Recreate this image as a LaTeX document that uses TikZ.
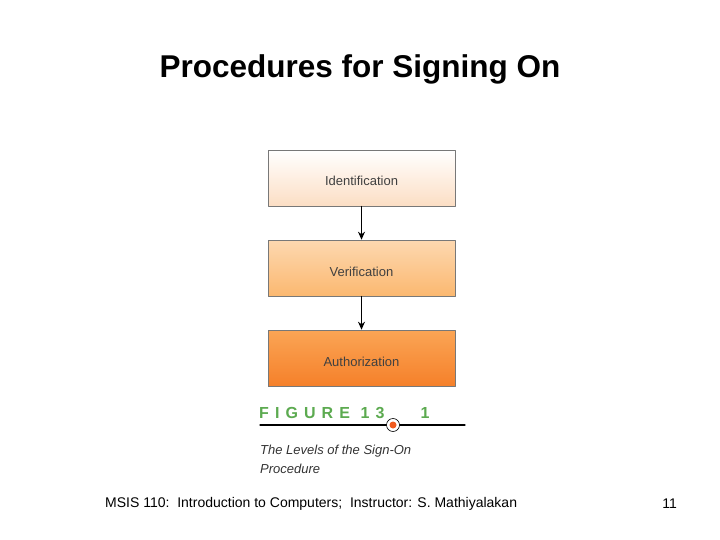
\documentclass[tikz,border=0pt]{standalone}
\usepackage{fontspec}
\setmainfont{Liberation Sans}
\usetikzlibrary{arrows.meta}

\definecolor{figgreen}{RGB}{92,170,80}
\definecolor{dotorange}{RGB}{240,90,30}
\definecolor{boxline}{RGB}{120,120,120}

\begin{document}
\begin{tikzpicture}[x=1pt, y=-1pt, line cap=round, line join=round,
    >={Stealth[length=8pt,width=7pt]},
    level/.style={draw=boxline, line width=0.6pt, minimum width=187pt, minimum height=56pt,
      inner sep=0pt, font=\fontsize{13}{15}\selectfont, text=black!75},
    caption/.style={anchor=west, inner sep=0pt, font=\fontsize{13}{15}\selectfont\itshape, text=black!80}]
    \useasboundingbox (0,0) rectangle (720,540);

    \node[font=\fontsize{31.5}{34}\selectfont\bfseries] (title) at (360,69) {Procedures for Signing On};

    \node[level, top color=white, bottom color={rgb,255:red,252;green,222;blue,196}] (ident) at (361.5,178) {\raisebox{-8pt}[0pt][0pt]{Identification}};
    \node[level, top color={rgb,255:red,253;green,216;blue,176}, bottom color={rgb,255:red,251;green,184;blue,112}] (verif) at (361.5,268) {\raisebox{-8pt}[0pt][0pt]{Verification}};
    \node[level, top color={rgb,255:red,251;green,165;blue,85}, bottom color={rgb,255:red,245;green,128;blue,42}] (auth) at (361.5,358) {\raisebox{-8pt}[0pt][0pt]{Authorization}};

    \draw[->, line width=1pt] (ident) -- (verif);
    \draw[->, line width=1pt] (verif) -- (auth);

    % figure caption
    \node[anchor=west, inner sep=0pt, text=figgreen, font=\fontsize{16}{18}\selectfont\bfseries\addfontfeature{LetterSpace=38}] (fignum) at (259,413) {FIGURE 13};
    \node[inner sep=0pt, text=figgreen, font=\fontsize{16}{18}\selectfont\bfseries] (figsub) at (425,413) {1};
    \coordinate (ruleL) at (260,425);
    \coordinate (ruleR) at (465,425);
    \coordinate (mark) at (393,425);
    \draw[line width=1.2pt] (ruleL) -- (ruleR);
    \draw[fill=white, line width=0.6pt] (mark) circle (6.5pt);
    \fill[dotorange] (mark) circle (3.5pt);
    \node[caption] (capA) at (260,451) {The Levels of the Sign-On};
    \node[caption] (capB) at (260,469) {Procedure};

    \node[anchor=west, inner sep=0pt, font=\fontsize{14}{16}\selectfont] (footer) at (105,504) {MSIS 110:\ \ Introduction to Computers;\ \ Instructor: S. Mathiyalakan};
    \node[anchor=east, inner sep=0pt, font=\fontsize{14}{16}\selectfont] (page) at (677,504) {11};
\end{tikzpicture}
\end{document}
